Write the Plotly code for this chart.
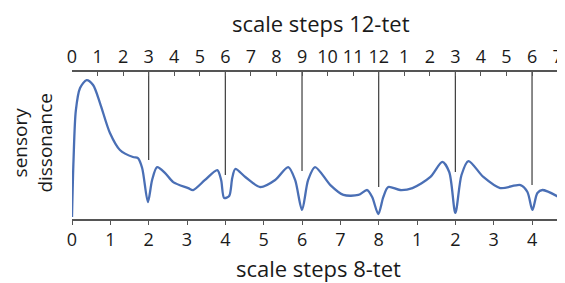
import plotly.graph_objects as go

# ---- data (x in 8-tet scale steps, y = sensory dissonance, arbitrary units) ----
curve_x = [0.0, 0.04, 0.10, 0.21, 0.38, 0.55, 0.73, 0.99, 1.25, 1.59, 1.72, 1.83, 1.98,
           2.09, 2.22, 2.43, 2.64, 3.03, 3.16, 3.47, 3.79, 3.89, 3.97, 4.10, 4.18, 4.26,
           4.52, 4.91, 5.30, 5.64, 5.82, 6.00, 6.16, 6.34, 6.74, 7.08, 7.47, 7.70, 7.83,
           7.99, 8.12, 8.25, 8.56, 8.88, 9.35, 9.66, 9.84, 10.00, 10.16, 10.34, 10.73,
           11.17, 11.70, 11.88, 12.01, 12.14, 12.27, 12.86]
curve_y = [0.02, 0.40, 0.73, 0.88, 0.933, 0.90, 0.78, 0.58, 0.467, 0.42, 0.413, 0.347, 0.12,
           0.267, 0.353, 0.313, 0.253, 0.213, 0.20, 0.267, 0.333, 0.267, 0.147, 0.16, 0.28, 0.34,
           0.287, 0.22, 0.267, 0.353, 0.267, 0.067, 0.267, 0.353, 0.233, 0.167, 0.167, 0.20, 0.153,
           0.04, 0.153, 0.22, 0.20, 0.213, 0.287, 0.387, 0.32, 0.047, 0.30, 0.393, 0.287,
           0.213, 0.233, 0.187, 0.067, 0.18, 0.20, 0.13]

# vertical markers at coinciding steps (8-tet positions) and where they end
marker_x = [2, 4, 6, 8, 10, 12]
marker_end = [0.40, 0.30, 0.327, 0.22, 0.32, 0.233]

bottom_tickvals = list(range(0, 14))
bottom_ticktext = ["0", "1", "2", "3", "4", "5", "6", "7", "8", "1", "2", "3", "4", "5"]
top_tickvals = list(range(0, 20))
top_ticktext = [str(i) for i in range(13)] + [str(i) for i in range(1, 8)]

X_MAX = 12.86
Y_MIN, Y_MAX = 0.0067, 0.987

FONT = "Open Sans"
AX_COLOR = "#555555"
TXT = "#1a1a1a"

vx, vy = [], []
for x, e in zip(marker_x, marker_end):
    vx += [x, x, None]
    vy += [Y_MAX, e, None]

fig = go.Figure()
fig.add_trace(go.Scatter(x=vx, y=vy, mode="lines",
                         line=dict(color="#3c3c3c", width=1.2),
                         hoverinfo="skip", showlegend=False))
fig.add_trace(go.Scatter(x=curve_x, y=curve_y, mode="lines",
                         line=dict(color="#4a6fb5", width=2.3, shape="spline", smoothing=0.8),
                         showlegend=False))
# dummy trace for top axis
fig.add_trace(go.Scatter(x=[0], y=[None], xaxis="x2", showlegend=False, hoverinfo="skip"))

# the page body has an 8px margin, so the figure is offset by 8px; margins compensate
fig.update_layout(
    width=565, height=283,
    margin=dict(l=64, r=8, t=64, b=72, autoexpand=False),
    paper_bgcolor="white", plot_bgcolor="white",
    font=dict(family=FONT, size=18, color=TXT),
    xaxis=dict(range=[0, X_MAX], tickvals=bottom_tickvals, ticktext=bottom_ticktext,
               showgrid=False, zeroline=False, showline=True, linecolor=AX_COLOR, linewidth=1.5,
               ticks="outside", ticklen=4, tickcolor=AX_COLOR, tickwidth=1.2,
               automargin=False,
               tickfont=dict(family=FONT, size=18, color=TXT)),
    xaxis2=dict(range=[0, X_MAX * 1.5], tickvals=top_tickvals, ticktext=top_ticktext,
                overlaying="x", side="top", anchor="y",
                showgrid=False, zeroline=False, showline=True, linecolor=AX_COLOR, linewidth=1.5,
                ticks="inside", ticklen=4, tickcolor=AX_COLOR, tickwidth=1.2,
                automargin=False,
                tickfont=dict(family=FONT, size=18, color=TXT)),
    yaxis=dict(range=[Y_MIN, Y_MAX], showgrid=False, zeroline=False, showline=False,
               showticklabels=False, ticks="", automargin=False),
    annotations=[
        dict(text="scale steps 12-tet", xref="paper", yref="paper", x=0.505, y=1.333,
             xanchor="center", yanchor="middle", showarrow=False,
             font=dict(family=FONT, size=22, color=TXT)),
        dict(text="scale steps 8-tet", xref="paper", yref="paper", x=0.5, y=-0.333,
             xanchor="center", yanchor="middle", showarrow=False,
             font=dict(family=FONT, size=22, color=TXT)),
        dict(text="sensory<br>dissonance", xref="paper", yref="paper", x=-0.079, y=0.52,
             xanchor="center", yanchor="middle", textangle=-90, showarrow=False,
             font=dict(family=FONT, size=19, color=TXT)),
        dict(text="5", xref="paper", yref="paper", x=13 / X_MAX, y=-0.125,
             xanchor="center", yanchor="middle", showarrow=False,
             font=dict(family=FONT, size=18, color=TXT)),
    ],
)

fig.write_html("out.html")
